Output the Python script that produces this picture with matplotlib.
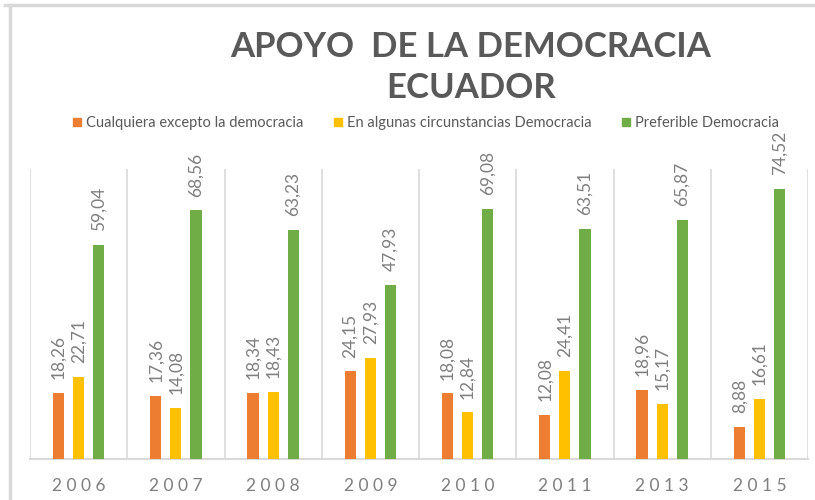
import matplotlib
matplotlib.use('Agg')
import matplotlib.pyplot as plt
from matplotlib.lines import Line2D
import numpy as np

# data
years = ['2006', '2007', '2008', '2009', '2010', '2011', '2013', '2015']
cualquiera = [18.26, 17.36, 18.34, 24.15, 18.08, 12.08, 18.96, 8.88]
algunas = [22.71, 14.08, 18.43, 27.93, 12.84, 24.41, 15.17, 16.61]
preferible = [59.04, 68.56, 63.23, 47.93, 69.08, 63.51, 65.87, 74.52]
series_names = ['Cualquiera excepto la democracia',
                'En algunas circunstancias Democracia',
                'Preferible Democracia']
colors = ['#ED7D31', '#FFC000', '#70AD47']

plt.rcParams['font.family'] = ['Lato', 'DejaVu Sans']
txtgray = '#595959'
valgray = '#7f7f7f'
gridc = '#d9d9d9'

fig = plt.figure(figsize=(8.15, 5.0), dpi=100)
ax = fig.add_axes([30/815, 1-459/500, 778/815, 290/500])

x = np.arange(len(years)) + 0.5
w = 0.115
step = 0.206
for k, vals in enumerate([cualquiera, algunas, preferible]):
    xs = x + (k-1)*step
    ax.bar(xs, vals, width=w, color=colors[k], zorder=3)
    for xi, v in zip(xs, vals):
        ax.annotate(('%.2f' % v).replace('.', ','), (xi, v),
                    xytext=(0, 10), textcoords='offset points',
                    rotation=90, ha='center', va='bottom',
                    fontsize=12.5, color=valgray, clip_on=False)

ax.set_xlim(0, len(years))
ax.set_ylim(0, 80)
ax.set_xticks(x)
ax.set_xticklabels([' '.join(y) for y in years], fontsize=12.5, color=valgray)
ax.tick_params(axis='x', length=0, pad=14)
ax.set_yticks([])
for s in ['top', 'left', 'right']:
    ax.spines[s].set_visible(False)
ax.spines['bottom'].set_color(gridc)
ax.spines['bottom'].set_linewidth(1.5)
for g in range(len(years)+1):
    ax.axvline(g, color=gridc, lw=1.2, zorder=1)

# title
fig.text(471/815, 1-47/500, 'APOYO  DE LA DEMOCRACIA', ha='center', va='center',
         fontsize=25, fontweight='bold', color=txtgray)
fig.text(471/815, 1-88/500, 'ECUADOR', ha='center', va='center',
         fontsize=25, fontweight='bold', color=txtgray)

# legend
handles = [Line2D([], [], marker='s', ls='none', color=c, markersize=6) for c in colors]
fig.legend(handles, series_names, loc='center', bbox_to_anchor=(425/815, 1-123/500),
           ncol=3, frameon=False, fontsize=10.5, labelcolor=txtgray,
           handletextpad=0.2, columnspacing=2.0, handlelength=0.8)

# chart frame (top and left edges)
fig.add_artist(Line2D([5/815, 1], [1-5/500, 1-5/500], color=gridc, lw=2.5))
fig.add_artist(Line2D([10/815, 10/815], [0, 1-5/500], color=gridc, lw=2.5))

fig.savefig('out.png', dpi=100)
